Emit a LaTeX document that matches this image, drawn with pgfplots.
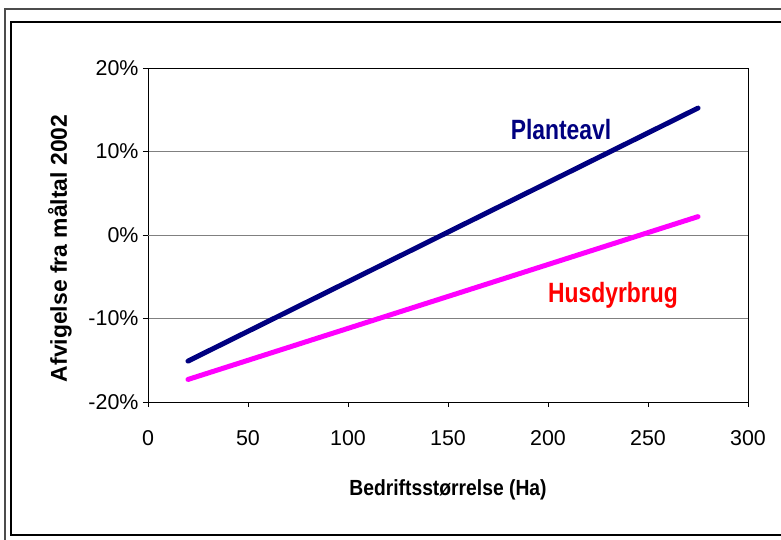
\documentclass[border=0pt]{standalone}
\usepackage{fontspec}
\setmainfont{Liberation Sans}
\newfontfamily\tickf{Liberation Sans}
\newfontfamily\labf[FakeStretch=0.88]{Liberation Sans}
\newfontfamily\serf[FakeStretch=0.82]{Liberation Sans}
\usepackage{pgfplots}
\pgfplotsset{compat=1.18}
\definecolor{navyline}{RGB}{0,0,128}
\definecolor{magline}{RGB}{255,0,255}
\definecolor{gridgray}{RGB}{128,128,128}
\begin{document}
\begin{tikzpicture}[x=1bp,y=1bp]
\path[use as bounding box] (-148,-138) rectangle (633,402);
% chart frame
\draw[line width=1.6bp, black!70] (-143,-140) -- (-143,393) -- (640,393);
\draw[line width=1.2bp, black] (640,-133) -- (-137,-133) -- (-137,380) -- (640,380);
\begin{axis}[
  at={(0,0)}, anchor=south west,
  scale only axis, width=600bp, height=334bp,
  xmin=0, xmax=300, ymin=-20, ymax=20,
  xtick={0,50,...,300}, ytick={-20,-10,0,10,20},
  tick align=outside, tick pos=left,
  major tick length=5bp,
  axis line style={black, line width=0.8bp},
  tick style={black, line width=0.8bp},
  ymajorgrids, major grid style={gridgray, line width=0.8bp},
  extra y ticks={0}, extra y tick labels={},
  extra y tick style={grid style={black, line width=0.8bp}},
  /pgf/number format/assume math mode=true,
  yticklabel={\pgfmathprintnumber{\tick}\%},
  ticklabel style={font=\tickf\fontsize{21.5}{24}\selectfont},
  xticklabel style={yshift=-20bp},
  yticklabel style={xshift=-1bp},
  xlabel={Bedriftsstørrelse (Ha)},
  ylabel={Afvigelse fra måltal 2002},
  xlabel style={font=\labf\bfseries\fontsize{22}{26}\selectfont, at={(axis description cs:0.5,0)}, anchor=center, yshift=-88bp},
  ylabel style={font=\tickf\bfseries\fontsize{23}{26}\selectfont, at={(axis description cs:0,0.46)}, anchor=center, yshift=88bp},
  clip=false,
]
\addplot[navyline, line width=5bp, line cap=round] coordinates {(20,-15.1) (275,15.2)};
\addplot[magline, line width=5bp, line cap=round] coordinates {(20,-17.3) (275,2.2)};
\node[font=\serf\bfseries\fontsize{28}{32}\selectfont, text=navyline] at (axis cs:206.5,12.6) {Planteavl};
\node[font=\serf\bfseries\fontsize{28}{32}\selectfont, text=red] at (axis cs:232.5,-7.2) {Husdyrbrug};
\end{axis}
\end{tikzpicture}
\end{document}
